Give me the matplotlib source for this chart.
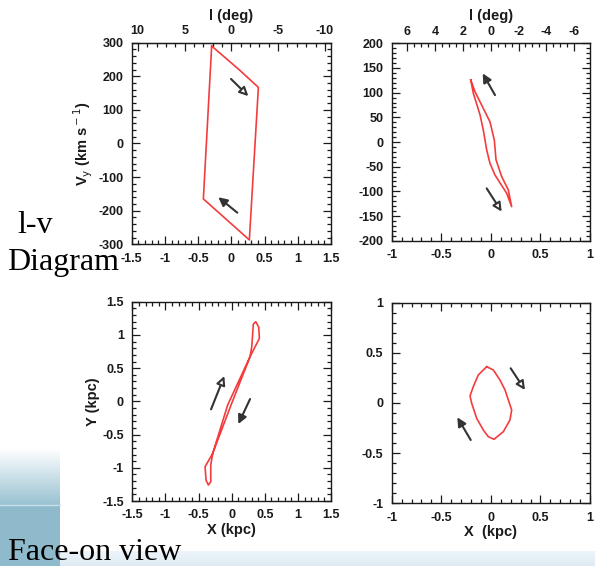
"""
Bar orbit plots: l-v diagrams (top) and face-on view (bottom)
"""
import numpy as np
import matplotlib
import matplotlib.pyplot as plt
from matplotlib.ticker import MultipleLocator, FixedLocator

matplotlib.use('Agg')
plt.rcParams['font.family'] = ['Liberation Sans', 'DejaVu Sans']

# ---- data ----
# top-left: l-v orbit (X kpc, Vy km/s)
tl_x = [-0.296, 0.121, 0.407, 0.271, -0.421, -0.296]
tl_v = [290, 219, 167, -287, -165, 290]
tl_arrows = [((-0.005, 192), (0.256, 141)), ((0.090, -206), (-0.196, -160))]
tl_l_ticks = [10, 5, 0, -5, -10]

# top-right: l-v orbit
tr_x = [-0.203, -0.160, -0.009, 0.035, 0.052, 0.109, 0.176, 0.210,
        0.160, 0.042, -0.009, -0.042, -0.076, -0.109, -0.177, -0.203]
tr_v = [126, 102, 41, 4, -36, -70, -97, -131,
        -104, -67, -43, -16, 24, 55, 99, 126]
tr_arrows = [((0.042, 95), (-0.082, 139)), ((-0.042, -94), (0.109, -141))]
tr_l_ticks = [6, 4, 2, 0, -2, -4, -6]

# bottom-left: face-on orbit (X, Y kpc)
bl_x = [-0.286, -0.061, 0.277, 0.418, 0.408, 0.363, 0.327, 0.303, 0.277,
        -0.010, -0.286, -0.402, -0.387, -0.352, -0.316, -0.316, -0.286]
bl_y = [-0.782, -0.055, 0.672, 0.949, 1.119, 1.199, 1.164, 0.823, 0.672,
        -0.055, -0.782, -0.984, -1.187, -1.259, -1.210, -0.958, -0.782]
bl_arrows = [((-0.312, -0.120), (-0.111, 0.381)), ((0.277, 0.035), (0.100, -0.341))]

# bottom-right: face-on orbit
br_x = [-0.042, 0.025, 0.092, 0.143, 0.210, 0.193, 0.126, 0.032,
        -0.026, -0.076, -0.143, -0.193, -0.210, -0.177, -0.127, -0.042]
br_y = [0.362, 0.329, 0.229, 0.130, -0.070, -0.169, -0.286, -0.362,
        -0.336, -0.269, -0.153, -0.003, 0.070, 0.163, 0.279, 0.362]
br_arrows = [((0.200, 0.346), (0.344, 0.130)), ((-0.203, -0.369), (-0.338, -0.143))]

R0 = 8.0  # kpc, for the longitude axis
RED = '#f43c3c'
ARROW = '#333333'
INK = '#1a1a1a'
TICKFONT = dict(size=9, weight='bold')
LABFONT = dict(fontsize=10.5, fontweight='bold', color=INK)


def to_l(x):
    return -np.degrees(np.arctan(np.asarray(x) / R0))


def from_l(l):
    return -R0 * np.tan(np.radians(np.asarray(l)))


def fmt(v, pos):
    return '%g' % v


def ticks(ax, which_axes='both', **kw):
    ax.tick_params(which='both', direction='in', colors=INK, width=0.9, **kw)
    ax.tick_params(which='major', length=6)
    ax.tick_params(which='minor', length=3)


def style(ax, xmaj, xmin, ymaj, ymin, top=True):
    ax.xaxis.set_major_locator(MultipleLocator(xmaj))
    ax.xaxis.set_minor_locator(MultipleLocator(xmin))
    ax.yaxis.set_major_locator(MultipleLocator(ymaj))
    ax.yaxis.set_minor_locator(MultipleLocator(ymin))
    ticks(ax, right=True, top=top)
    ax.tick_params(axis='x', pad=6)
    ax.tick_params(axis='y', pad=6)
    ax.xaxis.set_major_formatter(plt.FuncFormatter(fmt))
    ax.yaxis.set_major_formatter(plt.FuncFormatter(fmt))
    for lab in ax.get_xticklabels() + ax.get_yticklabels():
        lab.set_fontsize(TICKFONT['size'])
        lab.set_fontweight(TICKFONT['weight'])
    for s in ax.spines.values():
        s.set_color(INK)
        s.set_linewidth(1.0)


def top_l(ax, majors, minor):
    sec = ax.secondary_xaxis('top', functions=(to_l, from_l))
    sec.xaxis.set_major_locator(FixedLocator(majors))
    sec.xaxis.set_minor_locator(FixedLocator(
        np.arange(min(majors), max(majors) + minor / 2, minor)))
    sec.xaxis.set_major_formatter(plt.FuncFormatter(fmt))
    ticks(sec, pad=4)
    for lab in sec.get_xticklabels():
        lab.set_fontsize(TICKFONT['size'])
        lab.set_fontweight(TICKFONT['weight'])
    sec.set_xlabel('l (deg)', labelpad=4, **LABFONT)
    sec.spines['top'].set_color(INK)
    return sec


def arrows(ax, pairs, open_first):
    for i, (tail, head) in enumerate(pairs):
        is_open = (i == 0) == open_first
        ax.annotate('', xy=head, xytext=tail,
                    arrowprops=dict(arrowstyle='-|>', mutation_scale=13, lw=1.5,
                                    ec=ARROW, fc='white' if is_open else ARROW,
                                    shrinkA=0, shrinkB=0))


fig = plt.figure(figsize=(5.95, 5.66), dpi=100)

# background decoration (pixel coordinates)
bg = fig.add_axes([0, 0, 1, 1], zorder=-5)
band = np.linspace(0, 1, 20)[:, None, None]
band_img = (1 - band) * np.array([0.93, 0.96, 0.98]) + band * np.array([0.87, 0.92, 0.95])
bg.imshow(band_img, extent=(0, 595, 566, 551), aspect='auto', interpolation='bilinear')
g = np.linspace(0, 1, 60)[:, None, None]
grad = (1 - g) * np.array([1.0, 1.0, 1.0]) + g * np.array([0.60, 0.76, 0.82])
bg.imshow(grad, extent=(0, 60, 505, 448), aspect='auto', interpolation='bilinear')
bg.imshow(np.array([[[0.56, 0.73, 0.80]]]), extent=(0, 60, 566, 505), aspect='auto')
bg.plot([0, 60], [505, 505], color='#c9dfe7', lw=1)
bg.text(17, 233, 'l-v', family='Liberation Serif', fontsize=23, color='black')
bg.text(7, 270, 'Diagram', family='Liberation Serif', fontsize=23, color='black')
bg.text(8, 560, 'Face-on view', family='Liberation Serif', fontsize=23, color='black')
bg.set_xlim(0, 595)
bg.set_ylim(566, 0)
bg.axis('off')

# top-left
ax1 = fig.add_axes([0.2213, 0.5684, 0.335, 0.3562])
ax1.plot(tl_x, tl_v, color=RED, lw=1.2)
ax1.set_xlim(-1.5, 1.5)
ax1.set_ylim(-300, 300)
style(ax1, 0.5, 0.1, 100, 20, top=False)
arrows(ax1, tl_arrows, True)
ax1.set_ylabel(r'V$_{\rm y}$ (km s$^{\rm -1}$)', labelpad=2, **LABFONT)
top_l(ax1, tl_l_ticks, 1)

# top-right
ax2 = fig.add_axes([0.6583, 0.5747, 0.3333, 0.3488])
ax2.plot(tr_x, tr_v, color=RED, lw=1.2)
ax2.set_xlim(-1, 1)
ax2.set_ylim(-200, 200)
style(ax2, 0.5, 0.1, 50, 10, top=False)
arrows(ax2, tr_arrows, False)
top_l(ax2, tr_l_ticks, 0.5)

# bottom-left
ax3 = fig.add_axes([0.2224, 0.1148, 0.334, 0.3521])
ax3.plot(bl_x, bl_y, color=RED, lw=1.2)
ax3.set_xlim(-1.5, 1.5)
ax3.set_ylim(-1.5, 1.5)
style(ax3, 0.5, 0.1, 0.5, 0.1)
arrows(ax3, bl_arrows, True)
ax3.set_xlabel('X (kpc)', labelpad=1, **LABFONT)
ax3.set_ylabel('Y (kpc)', labelpad=2, **LABFONT)

# bottom-right
ax4 = fig.add_axes([0.6583, 0.1108, 0.3333, 0.3544])
ax4.plot(br_x, br_y, color=RED, lw=1.2)
ax4.set_xlim(-1, 1)
ax4.set_ylim(-1, 1)
style(ax4, 0.5, 0.1, 0.5, 0.1)
arrows(ax4, br_arrows, True)
ax4.set_xlabel('X  (kpc)', labelpad=1, **LABFONT)

fig.savefig('out.png', dpi=100)
print("Saved: out.png")
